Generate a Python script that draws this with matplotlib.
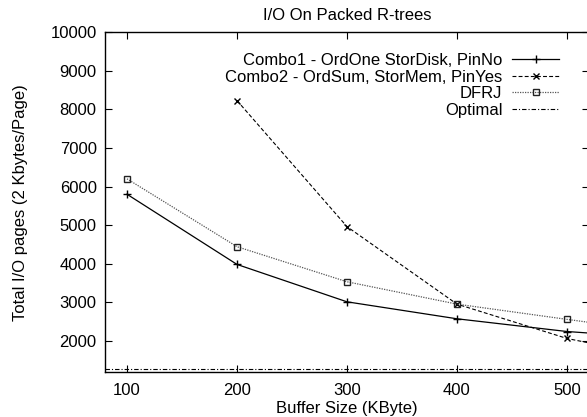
import matplotlib
matplotlib.use("Agg")
import matplotlib.pyplot as plt

plt.rcParams['font.family'] = ['Liberation Sans', 'DejaVu Sans']

buffer_kb = [100, 200, 300, 400, 500, 600]
combo1 = [5800, 3980, 3010, 2570, 2240, 2040]
combo2_x = [200, 300, 400, 500, 600]
combo2 = [8230, 4960, 2950, 2060, 1480]
dfrj = [6200, 4440, 3530, 2950, 2555, 2170]
optimal = 1280

labels = ['Combo1 - OrdOne StorDisk, PinNo',
          'Combo2 - OrdSum, StorMem, PinYes',
          'DFRJ',
          'Optimal']

W, H = 587, 417
fs = 12
fig = plt.figure(figsize=(W / 100, H / 100), dpi=100)
ax = fig.add_axes([105 / W, (H - 372) / H, (589 - 105) / W, (372 - 32.3) / H])

ax.plot(buffer_kb, combo1, color='black', lw=0.9, marker='+', ms=6, mew=1.0, label=labels[0])
ax.plot(combo2_x, combo2, color='black', lw=0.8, ls=(0, (3.5, 2)), marker='x', ms=4.5, mew=1.0, label=labels[1])
ax.plot(buffer_kb, dfrj, color='#555555', lw=0.9, ls=(0, (1, 1)), marker='s', ms=4.5,
        mfc='none', mec='#222222', mew=1.0, label=labels[2])
ax.axhline(optimal, color='black', lw=0.8, ls=(0, (4, 1.8, 1, 1.8)), label=labels[3])

ax.set_xlim(80, 520)
ax.set_ylim(1190, 10000)
ax.set_xticks([100, 200, 300, 400, 500])
ax.set_yticks(range(2000, 10001, 1000))
ax.tick_params(direction='in', length=5, width=0.8, top=True, right=True, labelsize=fs, pad=6)
ax.tick_params(axis='x', pad=8)
for s in ax.spines.values():
    s.set_linewidth(1.0)

ax.set_title('I/O On Packed R-trees', fontsize=fs, pad=9)
ax.set_xlabel('Buffer Size (KByte)', fontsize=fs, labelpad=2)
ax.set_ylabel('Total I/O pages (2 Kbytes/Page)', fontsize=fs, labelpad=16)

leg = ax.legend(loc='upper right', bbox_to_anchor=((559 - 105) / (589 - 105), 1 - 21 / 340),
                markerfirst=False, frameon=False, fontsize=fs, handlelength=2.8,
                handletextpad=0.6, labelspacing=0.09, borderaxespad=0, borderpad=0)

fig.savefig('out.png', dpi=100)
